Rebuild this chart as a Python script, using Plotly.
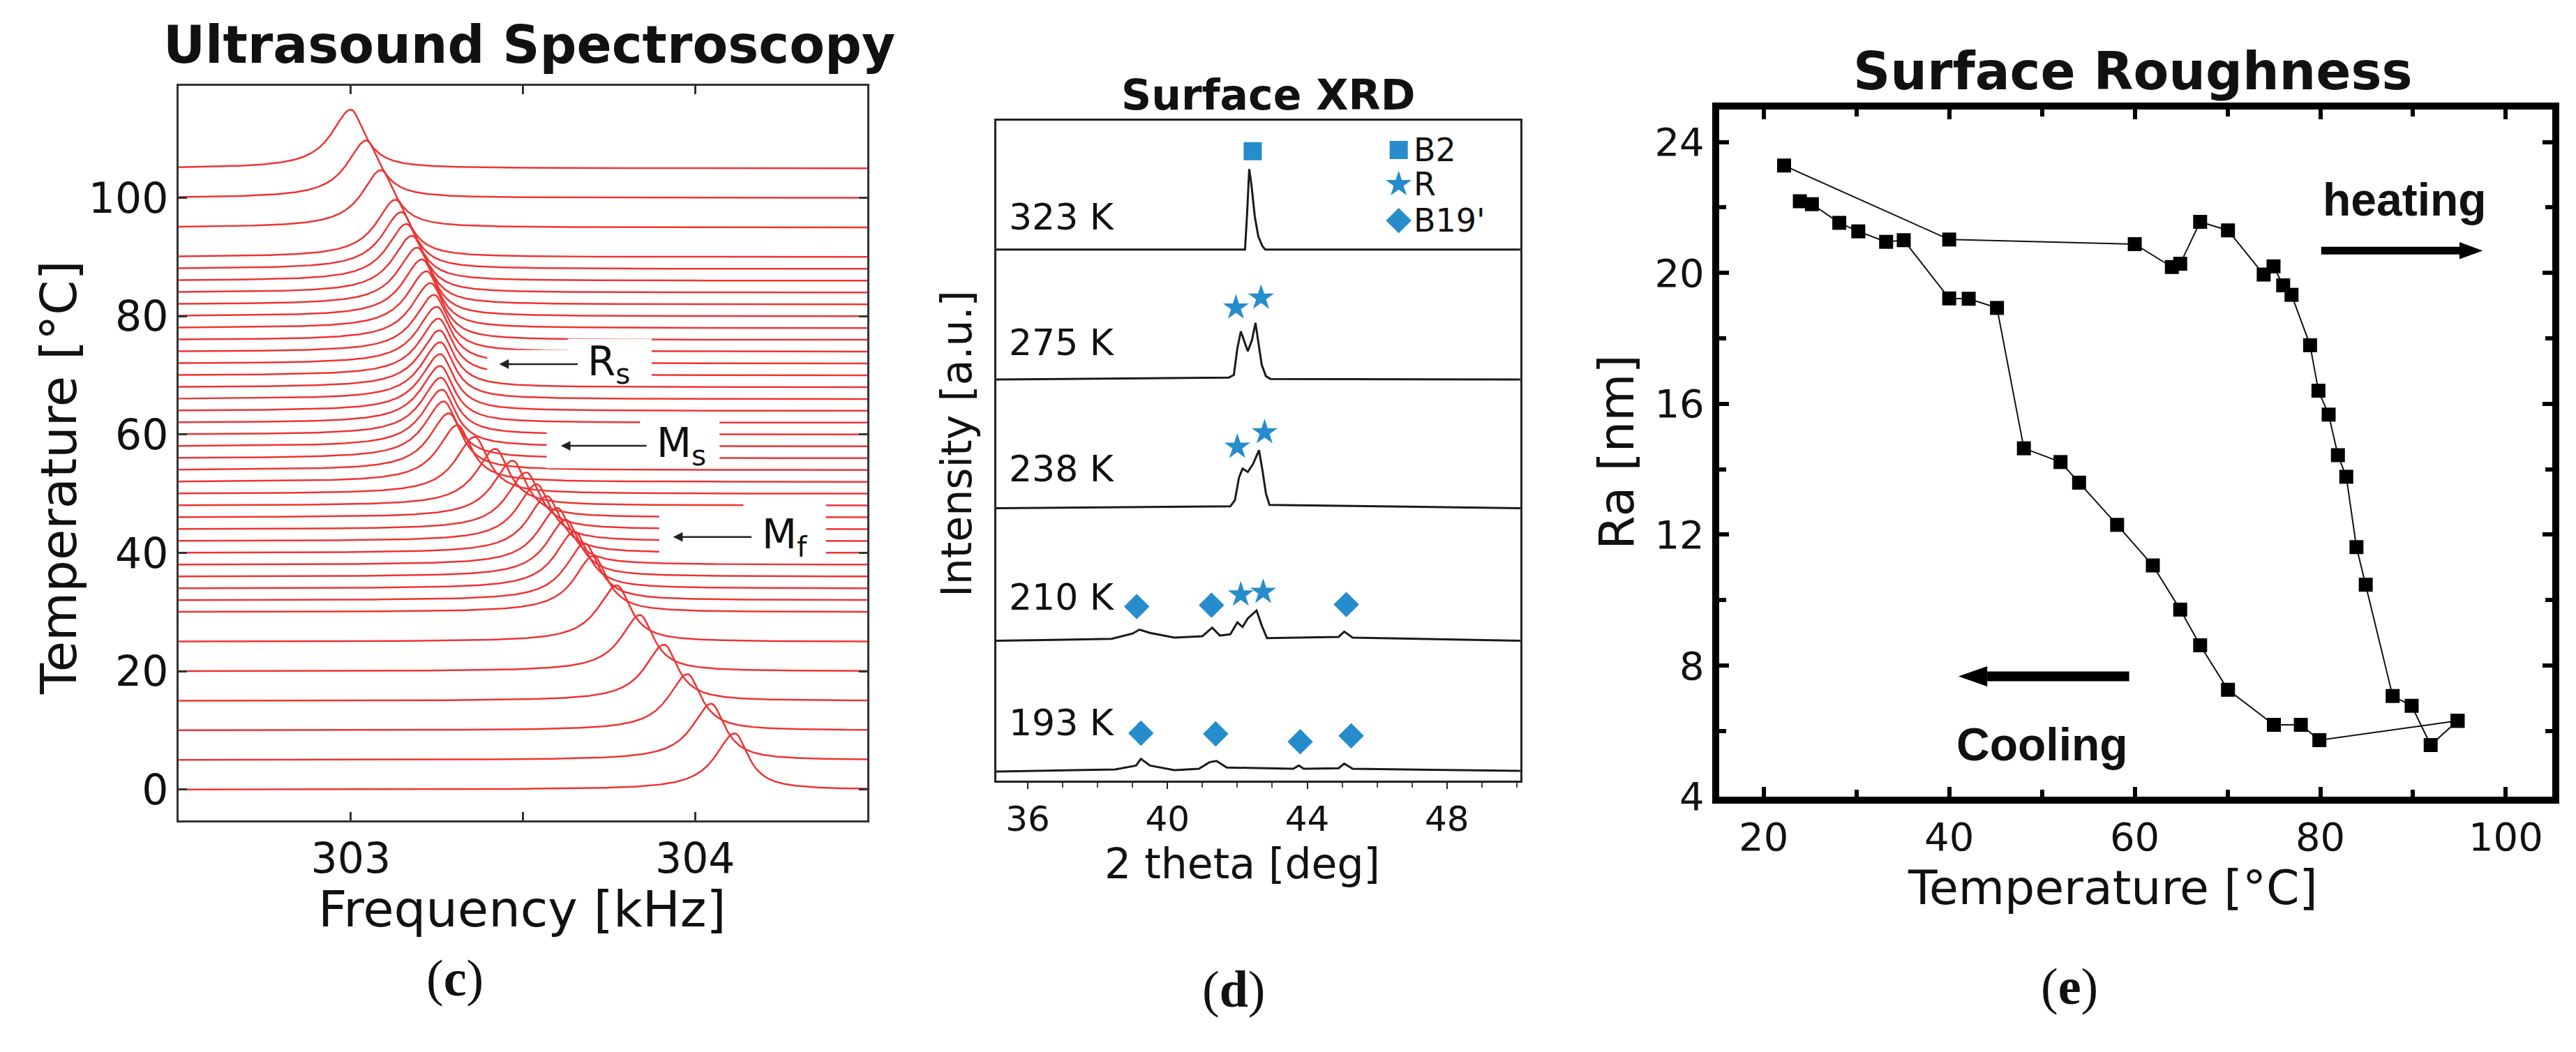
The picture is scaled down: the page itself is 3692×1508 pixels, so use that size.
import numpy as np
import plotly.graph_objects as go

# ---- (c) ultrasound spectroscopy: one resonance per temperature step ----
us_baseline = [0, 5, 10, 15, 20, 25, 30, 32, 34, 36, 38, 40, 42, 44, 46, 48, 50, 52, 54, 56,
               58, 60, 62, 64, 66, 68, 70, 72, 74, 76, 78, 80, 82, 84, 86, 88, 90, 95, 100, 105]
us_peak_khz = [304.115, 304.047, 303.978, 303.910, 303.840, 303.773, 303.705, 303.680, 303.650,
               303.625, 303.600, 303.570, 303.540, 303.510, 303.470, 303.420, 303.360, 303.310,
               303.285, 303.270, 303.265, 303.262, 303.260, 303.260, 303.260, 303.258, 303.255,
               303.250, 303.242, 303.232, 303.220, 303.207, 303.193, 303.178, 303.162, 303.147,
               303.130, 303.088, 303.045, 303.000]
us_peak_height = [9.5] * 7 + [9.6] * 29 + [9.7, 9.7, 9.7, 9.9]
us_freq = np.linspace(302.5, 304.5, 801)
W_LEFT, W_RIGHT = 0.068, 0.048

# ---- (d) surface XRD: traces as (2theta, intensity) points ----
xrd_labels = ['323 K', '275 K', '238 K', '210 K', '193 K']
xrd_label_y = [85.4, 66.4, 47.3, 27.8, 8.8]
xrd_x = [
    [35.1, 42.22, 42.28, 42.34, 42.40, 42.50, 42.60, 42.72, 42.80, 50.1],
    [35.1, 41.75, 41.90, 42.00, 42.10, 42.20, 42.30, 42.42, 42.52, 42.60, 42.70, 42.82, 42.95, 50.1],
    [35.1, 41.80, 41.93, 42.05, 42.15, 42.30, 42.45, 42.62, 42.72, 42.82, 42.92, 50.1],
    [35.1, 38.4, 39.0, 39.2, 39.5, 40.2, 41.0, 41.28, 41.5, 41.8, 42.0, 42.15, 42.3, 42.55,
     42.7, 42.85, 44.9, 45.06, 45.3, 50.1],
    [35.1, 38.5, 39.1, 39.24, 39.5, 40.2, 40.9, 41.2, 41.4, 41.7, 43.6, 43.76, 43.9, 44.9,
     45.06, 45.3, 50.1],
]
xrd_y = [
    [80.5, 80.5, 86.0, 92.7, 90.5, 85.5, 82.5, 81.0, 80.5, 80.5],
    [60.8, 61.1, 61.5, 65.5, 68.1, 66.5, 65.1, 66.8, 69.4, 66.5, 63.0, 61.3, 60.9, 60.8],
    [41.3, 41.6, 42.5, 46.0, 47.3, 46.8, 48.0, 50.1, 47.0, 43.5, 41.8, 41.3],
    [21.2, 21.5, 22.3, 22.9, 22.4, 21.7, 21.9, 23.2, 22.0, 22.2, 24.0, 23.3, 24.6, 25.8,
     23.5, 21.6, 21.8, 22.6, 21.7, 21.2],
    [1.4, 1.7, 2.3, 3.3, 2.3, 1.6, 1.8, 2.8, 3.0, 2.0, 1.8, 2.3, 1.8, 1.9, 2.6, 1.8, 1.5],
]
b2_x, b2_y = [42.44], [95.4]
r_x = [41.96, 42.68, 42.00, 42.78, 42.10, 42.74]
r_y = [71.7, 73.2, 50.6, 52.8, 28.2, 28.6]
b19_x = [39.12, 41.26, 45.12, 39.24, 41.38, 43.80, 45.26]
b19_y = [26.4, 26.6, 26.7, 7.2, 7.1, 5.9, 6.8]
legend_names = ['B2', 'R', "B19'"]
legend_y = [95.6, 90.4, 84.9]

# ---- (e) surface roughness ----
heat_t = [22.2, 40.0, 60.0, 64.0, 64.9, 67.05, 70.05, 73.9, 74.96, 76.0, 76.9, 78.9, 79.8,
          80.9, 81.9, 82.8, 83.9, 84.9, 87.8, 89.85, 91.9, 94.8]
heat_ra = [23.28, 21.02, 20.88, 20.18, 20.28, 21.56, 21.30, 19.95, 20.20, 19.62, 19.33, 17.79,
           16.40, 15.67, 14.43, 13.77, 11.62, 10.47, 7.07, 6.77, 5.57, 6.31]
cool_t = [94.8, 79.9, 77.9, 75.0, 70.05, 67.05, 64.9, 61.95, 58.1, 54.0, 52.0, 48.05, 45.15,
          42.1, 40.0, 35.1, 33.2, 30.2, 28.15, 25.2, 23.9]
cool_ra = [6.31, 5.72, 6.19, 6.19, 7.26, 8.62, 9.71, 11.06, 12.30, 13.59, 14.22, 14.64, 18.93,
           19.21, 19.22, 21.00, 20.95, 21.27, 21.53, 22.10, 22.19]

RED = 'rgb(238,52,52)'
BLUE = '#268ccc'
SANS = 'DejaVu Sans'

fig = go.Figure()

for base, f0, amp in zip(us_baseline, us_peak_khz, us_peak_height):
    d = us_freq - f0
    w = np.where(d < 0, W_LEFT, W_RIGHT)
    fig.add_trace(go.Scatter(x=us_freq, y=base + amp / (1 + (d / w) ** 2), mode='lines',
                             line=dict(color=RED, width=2.5), xaxis='x', yaxis='y',
                             showlegend=False, hoverinfo='skip'))

for xs, ys in zip(xrd_x, xrd_y):
    fig.add_trace(go.Scatter(x=xs, y=ys, mode='lines', line=dict(color='#1a1a1a', width=3),
                             xaxis='x2', yaxis='y2', showlegend=False))
fig.add_trace(go.Scatter(x=b2_x + [46.62], y=b2_y + [legend_y[0]], mode='markers',
                         marker=dict(symbol='square', size=26, color=BLUE),
                         xaxis='x2', yaxis='y2', showlegend=False))
fig.add_trace(go.Scatter(x=r_x + [46.62], y=r_y + [legend_y[1]], mode='markers',
                         marker=dict(symbol='star', size=28, color=BLUE),
                         xaxis='x2', yaxis='y2', showlegend=False))
fig.add_trace(go.Scatter(x=b19_x + [46.62], y=b19_y + [legend_y[2]], mode='markers',
                         marker=dict(symbol='diamond', size=28, color=BLUE),
                         xaxis='x2', yaxis='y2', showlegend=False))

for xs, ys in [(heat_t, heat_ra), (cool_t, cool_ra)]:
    fig.add_trace(go.Scatter(x=xs, y=ys, mode='lines+markers',
                             line=dict(color='#111', width=2),
                             marker=dict(symbol='square', size=20, color='#000'),
                             xaxis='x3', yaxis='y3', showlegend=False))

# white boxes behind the Rs / Ms / Mf labels
boxes = [(303.396, 303.874, 69.3, 74.3), (303.63, 303.874, 74.3, 76.2),
         (303.569, 304.071, 54.3, 61.5), (303.84, 304.071, 61.5, 63.5),
         (303.896, 304.38, 39.5, 46.5), (304.14, 304.38, 46.5, 48.8)]
shapes = [dict(type='rect', xref='x', yref='y', x0=a, x1=b, y0=c, y1=d, layer='above',
               fillcolor='white', line=dict(width=0)) for a, b, c, d in boxes]


# thick arrows of panel (e): shaft + filled head, in data units
def fat_arrow(x0, x1, y, shaft, head_len, head_half):
    sgn = 1 if x1 > x0 else -1
    xb = x1 - sgn * head_len
    shapes.append(dict(type='line', xref='x3', yref='y3', x0=x0, x1=xb, y0=y, y1=y,
                       line=dict(color='#000', width=shaft)))
    shapes.append(dict(type='path', xref='x3', yref='y3', fillcolor='#000', line=dict(width=0),
                       path=f'M {xb},{y - head_half} L {x1},{y} L {xb},{y + head_half} Z'))


fat_arrow(80.1, 97.5, 20.68, 11, 2.5, 0.26)
fat_arrow(59.4, 41.0, 7.67, 14, 3.1, 0.31)

ann = []


def text(x, y, s, size, xref='paper', yref='paper', family=SANS, angle=0, xanchor='center'):
    ann.append(dict(x=x, y=y, xref=xref, yref=yref, text=s, showarrow=False, textangle=angle,
                    xanchor=xanchor, yanchor='middle', font=dict(family=family, size=size, color='#111')))


# panel (c)
text(0.2034, 0.9622, '<b>Ultrasound Spectroscopy</b>', 74)
text(0.0206, 0.5411, 'Temperature [°C]', 72, angle=-90)
text(0.2007, 0.1220, 'Frequency [kHz]', 72)
text(0.1744, 0.055, '(<b>c</b>)', 74, family='Liberation Serif')
for lab, head, y, tx in [('R<sub>s</sub>', 303.431, 71.9, 303.75),
                         ('M<sub>s</sub>', 303.61, 58.1, 303.96),
                         ('M<sub>f</sub>', 303.936, 42.7, 304.26)]:
    ann.append(dict(x=head, y=y, ax=tx, ay=y, xref='x', yref='y', axref='x', ayref='y',
                    text=lab, showarrow=True, arrowhead=2, arrowsize=1.1, arrowwidth=2.5,
                    arrowcolor='#222', borderpad=14,
                    font=dict(family=SANS, size=58, color='#111')))

# panel (d)
text(0.4903, 0.9131, '<b>Surface XRD</b>', 60)
text(0.3692, 0.5743, 'Intensity [a.u.]', 60, angle=-90)
text(0.4802, 0.1664, '2 theta [deg]', 60)
text(0.4767, 0.0444, '(<b>d</b>)', 74, family='Liberation Serif')
for lab, y in zip(xrd_labels, xrd_label_y):
    text(35.42, y, lab, 52, xref='x2', yref='y2', xanchor='left')
for lab, y in zip(legend_names, legend_y):
    text(47.0, y, lab, 46, xref='x2', yref='y2', xanchor='left')

# panel (e)
text(0.8258, 0.9363, '<b>Surface Roughness</b>', 74)
text(0.6254, 0.5663, 'Ra [nm]', 70, angle=-90)
text(0.818, 0.1426, 'Temperature [°C]', 68)
text(0.8012, 0.0471, '(<b>e</b>)', 74, family='Liberation Serif')
text(89.1, 22.25, '<b>heating</b>', 66, xref='x3', yref='y3', family='Liberation Sans')
text(50.0, 5.6, '<b>Cooling</b>', 66, xref='x3', yref='y3', family='Liberation Sans')

thin = dict(showgrid=False, zeroline=False, showline=True, mirror='allticks', linecolor='#333',
            linewidth=2.5, ticks='inside', ticklen=12, tickwidth=2.5, tickcolor='#333',
            tickfont=dict(family=SANS, size=60, color='#111'))
thick = dict(showgrid=False, zeroline=False, showline=True, mirror='allticks', linecolor='#000',
             linewidth=10, ticks='inside', ticklen=14, tickwidth=6, tickcolor='#000',
             tickfont=dict(family=SANS, size=56, color='#111'))

fig.update_layout(
    width=3692, height=1508, margin=dict(l=0, r=0, t=0, b=0),
    paper_bgcolor='white', plot_bgcolor='white', showlegend=False,
    xaxis=dict(thin, domain=[0.0672, 0.3345], range=[302.5, 304.5], tickvals=[303, 303.5, 304],
               ticktext=['303', '', '304'], anchor='y'),
    yaxis=dict(thin, domain=[0.2082, 0.9218], range=[-5.2, 118.9],
               tickvals=[0, 20, 40, 60, 80, 100], anchor='x'),
    xaxis2=dict(domain=[0.3846, 0.5880], range=[35.1, 50.1], tickvals=[36, 40, 44, 48],
                showgrid=False, zeroline=False, showline=True, mirror=True, linecolor='#222',
                linewidth=3, ticks='outside', ticklen=9, tickwidth=2, tickcolor='#222',
                minor=dict(tickmode='linear', tick0=36, dtick=1, ticks='outside', ticklen=7,
                           tickwidth=2, tickcolor='#444'),
                tickfont=dict(family=SANS, size=50, color='#111'), anchor='y2'),
    yaxis2=dict(domain=[0.2467, 0.8879], range=[0, 100], showgrid=False, zeroline=False,
                showline=True, mirror=True, linecolor='#222', linewidth=3,
                showticklabels=False, ticks='', anchor='x2'),
    xaxis3=dict(thick, domain=[0.6652, 0.9886], range=[15.2, 105], tick0=20, dtick=20,
                minor=dict(dtick=10, ticks='inside', ticklen=10, tickwidth=6, tickcolor='#000'),
                anchor='y3'),
    yaxis3=dict(thick, domain=[0.2314, 0.8992], range=[4, 25], tick0=4, dtick=4,
                minor=dict(dtick=2, ticks='inside', ticklen=10, tickwidth=6, tickcolor='#000'),
                anchor='x3'),
    shapes=shapes, annotations=ann,
)

fig.write_html('out.html')
